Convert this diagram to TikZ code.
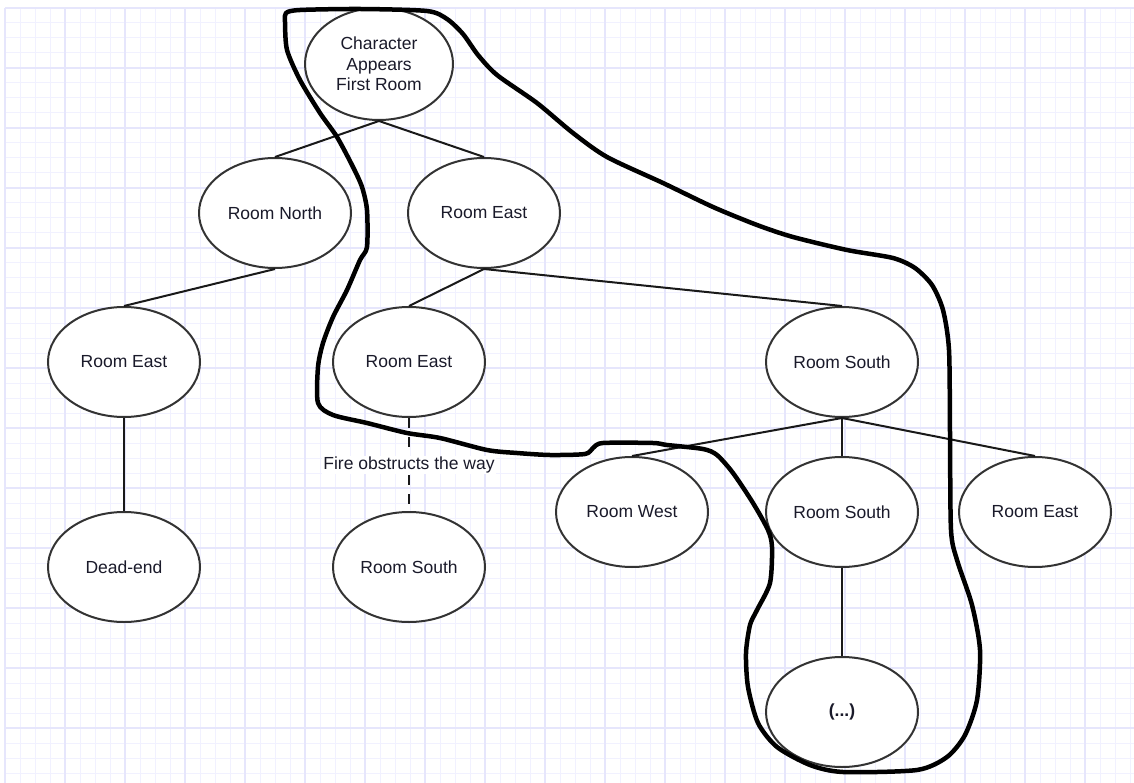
\documentclass[tikz,border=0pt]{standalone}
\usepackage{fontspec}
\setmainfont{Liberation Sans}
\usetikzlibrary{shapes.geometric}
\definecolor{gridminor}{HTML}{F1F1FF}
\definecolor{gridmajor}{HTML}{E6E6FC}
\definecolor{nodeline}{HTML}{333333}
\definecolor{txt}{HTML}{1A1A2A}
\tikzset{
  room/.style={ellipse, draw=nodeline, line width=2pt, fill=white,
    minimum width=152pt, minimum height=110pt, inner sep=0pt,
    font=\fontsize{17.5}{20.5}\selectfont, text=txt, align=center},
  link/.style={draw=black!90, line width=2pt},
  obstructed/.style={draw=black!90, line width=2pt, dash pattern=on 10pt off 9pt},
  lbl/.style={fill=white, inner sep=1pt, font=\fontsize{17.5}{20.5}\selectfont, text=txt},
  loop/.style={draw=black, line width=4.5pt, line join=round, line cap=round}
}
\begin{document}
\begin{tikzpicture}[x=1pt,y=-1pt]
\useasboundingbox (0,0) rectangle (1134,783);
\fill[white] (0,0) rectangle (1134,783);
% grid
\foreach \i in {0,...,75} {
  \pgfmathsetmacro{\xx}{5+15*\i}
  \draw[gridminor, line width=1pt] (\xx,8) -- (\xx,783);
}
\foreach \j in {0,...,51} {
  \pgfmathsetmacro{\yy}{8+15*\j}
  \draw[gridminor, line width=1pt] (5,\yy) -- (1134,\yy);
}
\foreach \i in {0,...,18} {
  \pgfmathsetmacro{\xx}{5+60*\i}
  \draw[gridmajor, line width=1.2pt] (\xx,8) -- (\xx,783);
}
\foreach \j in {0,...,12} {
  \pgfmathsetmacro{\yy}{8+60*\j}
  \draw[gridmajor, line width=1.2pt] (5,\yy) -- (1134,\yy);
}

% nodes
\node[room, minimum width=148pt, minimum height=112pt] (start) at (379,64) {Character\\Appears\\First Room};
\node[room] (rn) at (275,213) {Room North};
\node[room] (re) at (484,213) {Room East};
\node[room] (rne) at (124,362) {Room East};
\node[room] (ree) at (409,362) {Room East};
\node[room] (res) at (842,362) {Room South};
\node[room] (dead) at (124,567) {Dead-end};
\node[room] (rees) at (409,567) {Room South};
\node[room] (resw) at (632,512) {Room West};
\node[room] (ress) at (842,512) {Room South};
\node[room] (rese) at (1035,512) {Room East};
\node[room] (more) at (842,712) {\textbf{(...)}};

% connectors
\draw[link] (start.south) -- (rn.north);
\draw[link] (start.south) -- (re.north);
\draw[link] (rn.south) -- (rne.north);
\draw[link] (re.south) -- (ree.north);
\draw[link] (re.south) -- (res.north);
\draw[link] (rne.south) -- (dead.north);
\draw[link] (res.south) -- (resw.north);
\draw[link] (res.south) -- (ress.north);
\draw[link] (res.south) -- (rese.north);
\draw[link] (ress.south) -- (more.north);
\draw[obstructed] (ree.south) -- (rees.north);
\node[lbl] (fire) at (409,465) {Fire obstructs the way};

% hand-drawn loop
\draw[loop] plot[smooth cycle, tension=0.45] coordinates {
(286,13) (300,10) (360,9) (427,11) (447,19) (463,34) (478,55) (497,75) (537,103)
(573,133) (607,157) (663,183) (713,207) (757,225) (793,237) (847,250) (893,258)
(915,268) (932,285) (943,310) (949,350) (950,433) (951,530) (957,560) (972,605)
(980,650) (977,700) (965,735) (947,757) (917,770) (843,772) (810,765) (777,747)
(758,723) (748,687) (746,653) (750,625) (757,610) (770,583) (772,547) (768,530)
(753,503) (733,473) (717,455) (703,449) (667,445) (653,443) (603,443) (593,448)
(585,454) (550,455) (517,453) (487,450) (440,438) (407,433) (367,423) (333,415)
(318,403) (318,367) (323,343) (333,317) (347,290) (360,260) (367,247) (367,210)
(362,187) (353,167) (337,137) (320,113) (300,80) (287,50) (285,22)};
\end{tikzpicture}
\end{document}
